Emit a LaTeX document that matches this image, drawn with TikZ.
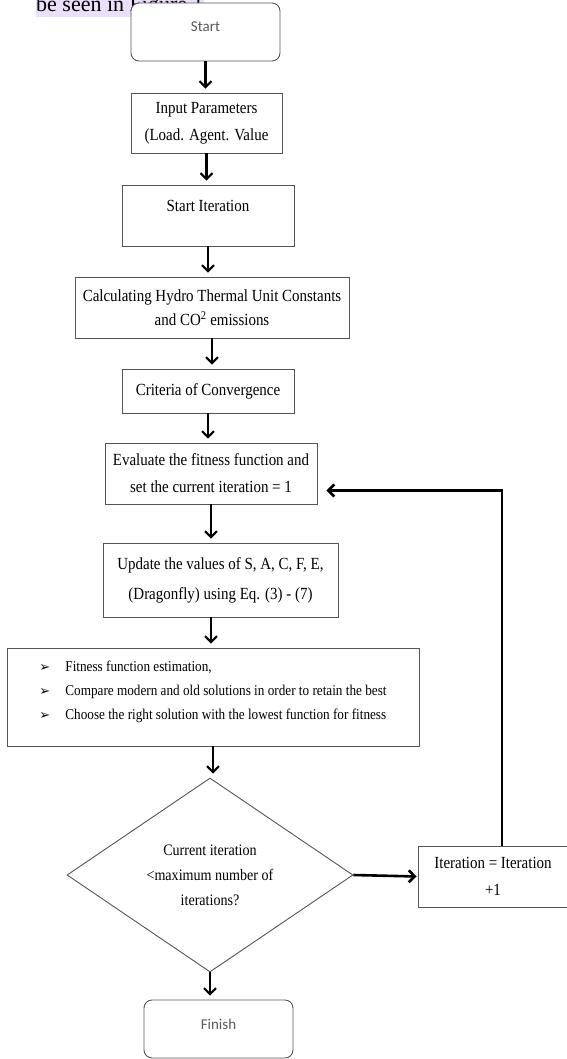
\documentclass[tikz,border=0pt]{standalone}
\usepackage{fontspec}
\setmainfont{Liberation Serif}[FakeStretch=0.88]
\newfontfamily\paginafont{Liberation Serif}
\newfontfamily\terminalfont{Carlito}
\newfontfamily\simbolofont{DejaVu Sans}
\usetikzlibrary{arrows.meta,shapes.geometric}

\begin{document}
\begin{tikzpicture}[x=1pt,y=-1pt,
        caja/.style={draw=borde, line width=0.9pt, align=center, inner sep=2pt, fill=white,
            font=\fontsize{17}{27}\selectfont},
        terminal/.style={caja, rounded corners=8pt, text=gris, text height=10pt, text depth=10pt,
            font=\terminalfont\fontsize{15}{18}\selectfont},
        decision/.style={caja, diamond, aspect=1.5, font=\fontsize{16}{25}\selectfont},
        flecha/.style={line width=2.1pt, -{Straight Barb[length=6pt,width=12pt]}, shorten >=4pt},
        regreso/.style={flecha, line width=2.6pt, shorten >=0pt}]
        %colores
        \definecolor{borde}{RGB}{85,85,85}
        \definecolor{gris}{RGB}{90,90,90}
        \definecolor{resalte}{RGB}{234,224,250}

        \useasboundingbox (0,0) rectangle (566,1059);

        % texto de la pagina, tapado por la caja de inicio
        \node[fill=resalte, inner sep=0pt, anchor=base west,
            font=\paginafont\fontsize{22}{22}\selectfont] (pagina) at (36,12) {be seen in Figure 1};

        % cajas
        \node[terminal, minimum width=149pt, minimum height=58pt] (inicio) at (205.5,32) {Start};
        \node[caja, minimum width=151pt, minimum height=60pt] (entrada) at (206.5,123)
            {Input Parameters\\(Load. Agent. Value};
        \node[caja, minimum width=172pt, minimum height=61pt, font=\fontsize{17}{15}\selectfont] (iter) at (208,215.5)
            {Start Iteration\\ \strut};
        \node[caja, minimum width=274pt, minimum height=61pt, font=\fontsize{17}{24}\selectfont] (calculo) at (212,307.5)
            {Calculating Hydro Thermal Unit Constants\\and CO\textsuperscript{2} emissions};
        \node[caja, minimum width=172pt, minimum height=44pt] (criterio) at (208,391)
            {Criteria of Convergence};
        \node[caja, minimum width=212pt, minimum height=61pt] (evaluar) at (211,473.5)
            {Evaluate the fitness function and\\set the current iteration = 1};
        \node[caja, minimum width=235pt, minimum height=74pt, font=\fontsize{17}{30}\selectfont] (actualizar) at (220.5,580)
            {Update the values of S, A, C, F, E,\\(Dragonfly) using Eq. (3) - (7)};
        \node[caja, minimum width=412pt, minimum height=98pt, font=\fontsize{15}{24}\selectfont] (estimar) at (213,697)
            {\begin{tabular}{@{}l@{}l@{}}
                \makebox[26pt][l]{\simbolofont\fontsize{13}{13}\selectfont ➢} & Fitness function estimation,\\
                \makebox[26pt][l]{\simbolofont\fontsize{13}{13}\selectfont ➢} & Compare modern and old solutions in order to retain the best\\
                \makebox[26pt][l]{\simbolofont\fontsize{13}{13}\selectfont ➢} & Choose the right solution with the lowest function for fitness\\[12pt]
            \end{tabular}};
        \node[decision, minimum width=286pt, minimum height=194pt] (decision) at (210,875)
            {Current iteration\\<maximum number of\\iterations?};
        \node[caja, minimum width=150pt, minimum height=61pt] (iteracion) at (493,876.5)
            {Iteration = Iteration\\+1};
        \node[terminal, minimum width=149pt, minimum height=58pt] (fin) at (218.5,1029) {Finish};

        % flechas
        \foreach \a/\b in {inicio/entrada, entrada/iter, iter/calculo, calculo/criterio,
            criterio/evaluar, evaluar/actualizar, estimar/decision, decision/fin}
        \draw[flecha] (\a.south) -- (\a.south |- \b.north);
        \draw[flecha] (actualizar.south -| evaluar.south) -- (estimar.north -| evaluar.south);
        \draw[flecha, line width=2.6pt, shorten >=1pt] (decision.east) -- (iteracion.west);

        % vuelta a evaluar
        \draw[regreso] ([xshift=9pt]iteracion.north) |- ([shift={(9,17)}]evaluar.east);
    \end{tikzpicture}
\end{document}
